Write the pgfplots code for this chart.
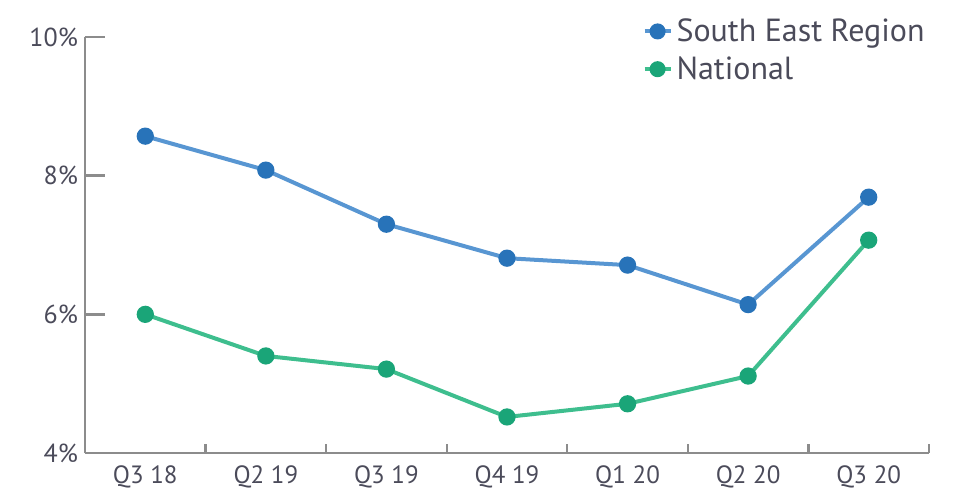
\documentclass[border=0pt]{standalone}
\usepackage{fontspec}
\setmainfont{PT Sans}
\usepackage{pgfplots}
\pgfplotsset{compat=1.18}
\definecolor{seline}{RGB}{88,150,210}
\definecolor{semark}{RGB}{40,115,185}
\definecolor{naline}{RGB}{62,190,142}
\definecolor{namark}{RGB}{26,165,120}
\definecolor{axgray}{RGB}{140,140,140}
\definecolor{txt}{RGB}{75,75,90}
\begin{document}
\begin{tikzpicture}
\begin{axis}[
  scale only axis,
  width=422pt, height=208pt,
  xmin=-0.5, xmax=6.5,
  ymin=4, ymax=10,
  axis x line*=bottom, axis y line*=left,
  axis line style={axgray, line width=1.2pt, -},
  xtick={0,...,6},
  xticklabels={Q3 18,Q2 19,Q3 19,Q4 19,Q1 20,Q2 20,Q3 20},
  minor xtick={0.5,1.5,...,6.5},
  ytick={4,6,8,10},
  yticklabel={\pgfmathparse{int(\tick)}\pgfmathresult\%},
  tick align=inside,
  major tick length=10pt,
  minor tick length=4.5pt,
  every major x tick/.style={draw=none},
  every minor x tick/.style={axgray, line width=1.2pt},
  every major y tick/.style={axgray, line width=1.2pt},
  tick label style={text=txt},
  xticklabel style={font=\fontsize{12.5}{14}\selectfont, yshift=-3pt},
  yticklabel style={font=\fontsize{13}{14}\selectfont},
  legend style={at={(axis description cs:1.0,1.055)}, anchor=north east,
    draw=none, fill=none, font=\fontsize{16}{19}\selectfont, text=txt,
    row sep=2pt, inner sep=0pt},
  legend cell align=left,
  legend image code/.code={
    \draw[mark repeat=2, mark phase=2, mark size=3pt] plot coordinates {(0pt,0pt) (6.5pt,0pt) (13pt,0pt)};
  },
  clip=false,
]
\addplot[seline, line width=2pt, mark=*, mark size=3.3pt,
  mark options={fill=semark, draw=semark}] coordinates {
  (0,8.57) (1,8.08) (2,7.30) (3,6.81) (4,6.71) (5,6.14) (6,7.69)
};
\addlegendentry{South East Region}
\addplot[naline, line width=2pt, mark=*, mark size=3.3pt,
  mark options={fill=namark, draw=namark}] coordinates {
  (0,6.00) (1,5.40) (2,5.21) (3,4.52) (4,4.71) (5,5.11) (6,7.07)
};
\addlegendentry{National}
\end{axis}
\pgfresetboundingbox
\path[use as bounding box] (-42.5pt,-21pt) rectangle (440.5pt,226.5pt);
\end{tikzpicture}
\end{document}
